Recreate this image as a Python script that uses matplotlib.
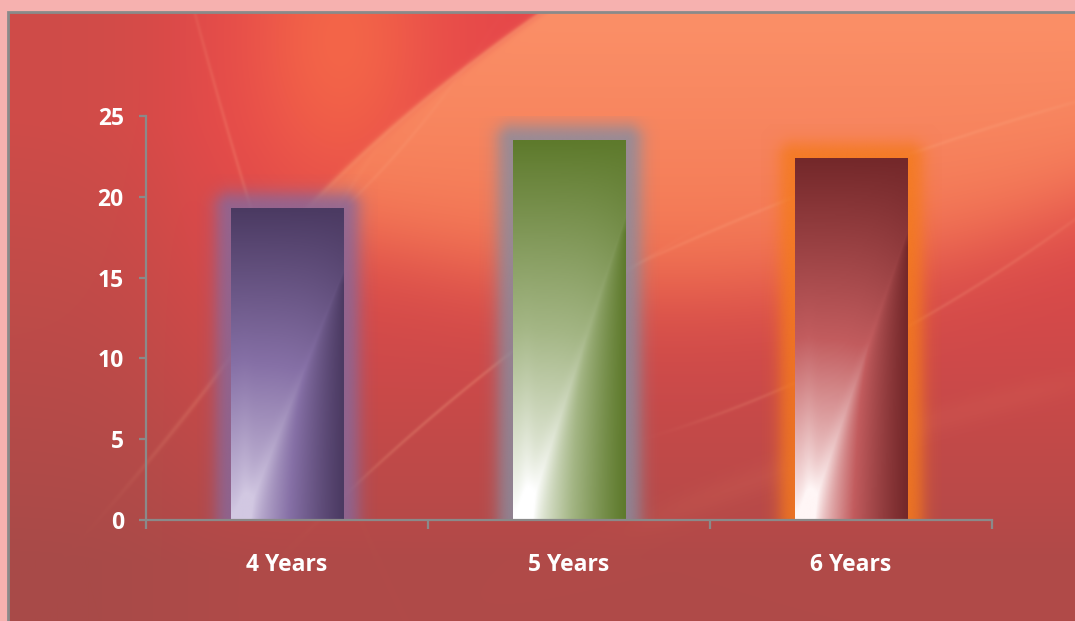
import numpy as np
import matplotlib.pyplot as plt
from matplotlib.colors import LinearSegmentedColormap, to_rgb
from matplotlib.patches import Rectangle

categories = ['4 Years', '5 Years', '6 Years']
values = [19.3, 23.5, 22.4]
y_ticks = [0, 5, 10, 15, 20, 25]

# dark (top / right edge), middle, light (bottom left)
bar_shades = [('#4B3A62', '#8670A6', '#D2C8E2'),
              ('#5E7A2C', '#A4B685', '#FFFFFF'),
              ('#74282A', '#C25C5E', '#FFF6F6')]
glow_colors = ['#88689A', '#8A8C9E', '#F47A1E']

W, H = 1075, 621
plt.rcParams['font.family'] = ['Open Sans', 'DejaVu Sans']


def sig(v):
    return 1 / (1 + np.exp(-np.clip(v, -50, 50)))


def lerp(c1, c2, t):
    return np.array(to_rgb(c1)) * (1 - t[..., None]) + np.array(to_rgb(c2)) * t[..., None]


def background(w, h):
    # pixel grid in full-figure coordinates (y from top)
    yy, xx = np.mgrid[0:h, 0:w].astype(float)
    xx += 8
    yy += 12
    tv = np.clip((yy - 120) / 440, 0, 1)
    left = lerp('#CF4C48', '#A84A48', tv)
    red = lerp('#E6484A', '#B04A48', tv ** 1.3)
    wl = sig((xx - 170) / 35)
    img = left * (1 - wl[..., None]) + red * wl[..., None]

    # orange wedge between the two thin lines at the upper left
    blob = np.exp(-(((xx - 340) / 90) ** 2 + ((yy - 40) / 150) ** 2))
    img = img * (1 - 0.8 * blob[..., None]) + np.array(to_rgb('#F76C48')) * 0.8 * blob[..., None]

    # big peach swoosh
    ga = np.polyfit([475, 111, 12], [144, 411, 541], 2)
    xa = np.polyval(ga, yy)
    fb = np.polyfit([300, 640, 1075], [215, 290, 205], 2)
    yb = np.polyval(fb, xx)
    m = sig((xx - xa) / 3) * sig((yb - yy) / 28) * sig((440 - yy) / 20)
    peach = lerp('#FB8F67', '#F27450', np.clip((yy - 20) / 300, 0, 1))
    img = img * (1 - m[..., None]) + peach * m[..., None]

    # light edge of the swoosh
    line = np.exp(-((xx - xa) / 4) ** 2) * sig((yb - yy) / 20) * sig((470 - yy) / 20) * 0.3
    img = img * (1 - line[..., None]) + np.array(to_rgb('#FBA877')) * line[..., None]

    def thin(img, xs, ys, width, strength, color='#FFB890'):
        coef = np.polyfit(xs, ys, 2)
        f = np.polyval(coef, xx)
        df = np.polyval(np.polyder(coef), xx)
        d = (yy - f) / np.sqrt(1 + df ** 2)
        fade = sig((xx - xs[0]) / 20) * sig((xs[-1] - xx) / 20)
        mm = strength * np.exp(-(d / width) ** 2) * fade
        return img * (1 - mm[..., None]) + np.array(to_rgb(color)) * mm[..., None]

    img = thin(img, [195, 245, 300], [15, 190, 360], 2, 0.18)
    img = thin(img, [140, 250, 343], [470, 330, 198], 2.5, 0.15)
    img = thin(img, [360, 520, 640], [480, 345, 262], 2, 0.2)
    img = thin(img, [640, 850, 1080], [262, 175, 100], 2, 0.15)
    img = thin(img, [700, 900, 1080], [420, 330, 215], 2, 0.14)
    img = thin(img, [650, 870, 1080], [520, 440, 380], 14, 0.08, '#F2906A')
    img = thin(img, [330, 390, 440], [220, 160, 100], 2, 0.12)
    return np.clip(img, 0, 1)


def bar_image(dark, mid, light, ny=300, nx=150):
    cmap = LinearSegmentedColormap.from_list('bar', [dark, mid, light])
    yv = np.linspace(0, 1, ny)[:, None]
    xv = np.linspace(0, 1, nx)[None, :]
    lum = (1 - yv) * np.ones_like(xv)
    diag = 0.12 + yv / 0.8 * 0.88
    d = (xv - diag) / np.maximum(1 - diag, 0.05)
    f = np.clip(d, 0, 1)
    lum = lum * (1 - f ** 0.9) + 0.06 * np.exp(-(d * 8) ** 2) * (1 - yv)
    lum = lum * (1 - 0.35 * xv ** 4)
    lum = lum + 0.08 * np.exp(-((xv - 0.12) / 0.06) ** 2) * (1 - yv) ** 3
    return cmap(np.clip(lum, 0, 1))


fig = plt.figure(figsize=(W / 100, H / 100), dpi=100)
fig.patch.set_facecolor('#F6B1AF')

bg_ax = fig.add_axes([8 / W, 0, 1 - 8 / W, 1 - 12 / H])
bg_ax.imshow(background(W - 8, H - 12), aspect='auto', interpolation='bilinear')
bg_ax.axis('off')
fig.add_artist(Rectangle((8 / W, -0.01), 1.0, 1 - 12 / H + 0.01, transform=fig.transFigure,
                         fill=False, edgecolor='#8A8A8A', linewidth=2))

ax = fig.add_axes([146 / W, 1 - 520 / H, 846 / W, 404 / H])
ax.set_facecolor('none')
ax.set_xlim(-0.5, 2.5)
ax.set_ylim(0, 25)

x = np.arange(len(categories))
bars = ax.bar(x, values, width=0.4, color='none', linewidth=0, zorder=3)

# pixel size in data units
bb = ax.get_window_extent()
ux = 3.0 / bb.width
uy = 25.0 / bb.height

for patch, shades, gc in zip(bars, bar_shades, glow_colors):
    x0, w, h = patch.get_x(), patch.get_width(), patch.get_height()
    # glow
    spread = 34
    gx = np.linspace(x0 - spread * ux, x0 + w + spread * ux, 200)
    gy = np.linspace(0, h + spread * uy, 300)
    GX, GY = np.meshgrid(gx, gy)
    dx = np.maximum(0, np.abs(GX - (x0 + w / 2)) - w / 2) / ux
    dy = np.maximum(0, GY - h) / uy
    dist = np.sqrt(dx ** 2 + dy ** 2)
    glow = np.zeros(GX.shape + (4,))
    glow[..., :3] = to_rgb(gc)
    glow[..., 3] = 0.9 * sig((15 - dist) / 5)
    ax.imshow(glow, extent=(gx[0], gx[-1], 0, gy[-1]), origin='lower',
              aspect='auto', zorder=1.5, interpolation='bilinear')
    # gradient body
    ax.imshow(bar_image(*shades), extent=(x0, x0 + w, 0, h), origin='lower',
              aspect='auto', zorder=2, interpolation='bilinear')

ax.set_xlim(-0.5, 2.5)
ax.set_ylim(0, 25)

for side in ['top', 'right']:
    ax.spines[side].set_visible(False)
for side in ['left', 'bottom']:
    ax.spines[side].set_color('#8A8A8A')
    ax.spines[side].set_linewidth(1.6)
    ax.spines[side].set_zorder(4)

ax.set_yticks(y_ticks)
ax.set_yticklabels([str(t) for t in y_ticks], fontweight='bold', fontsize=16.5, color='white')
ax.set_xticks(x)
ax.set_xticklabels(categories, fontweight='bold', fontsize=16.5, color='white')
ax.set_xticks(np.arange(-0.5, 3, 1), minor=True)
ax.tick_params(axis='y', direction='out', length=5, width=1.6, color='#8A8A8A', pad=11)
ax.tick_params(axis='x', which='major', length=0, pad=24)
ax.tick_params(axis='x', which='minor', direction='out', length=6.5, width=1.6, color='#8A8A8A')

fig.savefig('out.png', dpi=100, facecolor=fig.get_facecolor())
